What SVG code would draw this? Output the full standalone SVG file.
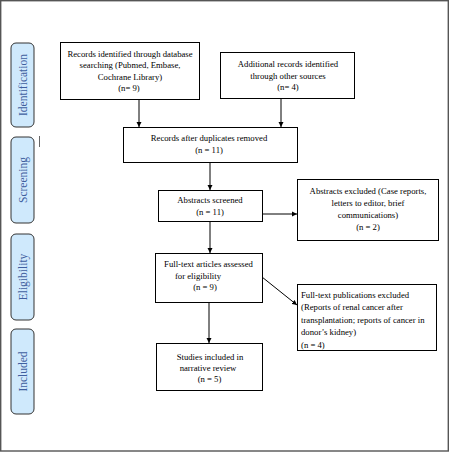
<svg xmlns="http://www.w3.org/2000/svg" width="449" height="452" viewBox="0 0 449 452">
<defs>
<marker id="ah" markerWidth="6" markerHeight="6" refX="5" refY="3" orient="auto" markerUnits="userSpaceOnUse">
<path d="M0,0.5 L5,3 L0,5.5 Z" fill="#000"/>
</marker>
<style>
.box{fill:#fff;stroke:#000;stroke-width:1}
.lab{fill:#cfe9fc;stroke:#333;stroke-width:1}
.t{font-family:"Liberation Serif","Times New Roman",serif;font-size:8.7px;fill:#000;text-anchor:middle}
.tl{font-family:"Liberation Serif","Times New Roman",serif;font-size:8.7px;fill:#000}
.lt{font-family:"Liberation Serif","Times New Roman",serif;font-size:11.5px;fill:#3f5f9f;text-anchor:middle}
.c{stroke:#000;stroke-width:1;fill:none;marker-end:url(#ah)}
</style>
</defs>
<rect x="0.7" y="0.7" width="447.6" height="450.3" fill="#fff" stroke="#555" stroke-width="1.4"/>
<g id="label-identification"><rect class="lab" x="11" y="43" width="23" height="84" rx="5"/><text class="lt" transform="translate(26.5,85) rotate(-90)">Identification</text></g>
<g id="label-screening"><rect class="lab" x="11" y="137" width="23" height="86" rx="5"/><text class="lt" transform="translate(26.5,180) rotate(-90)">Screening</text></g>
<line x1="39.5" y1="136" x2="39.5" y2="147" stroke="#666" stroke-width="1"/>
<g id="label-eligibility"><rect class="lab" x="11" y="234" width="23" height="86" rx="5"/><text class="lt" transform="translate(26.5,277) rotate(-90)">Eligibility</text></g>
<g id="label-included"><rect class="lab" x="11" y="329" width="23" height="85" rx="5"/><text class="lt" transform="translate(26.5,371.5) rotate(-90)">Included</text></g>
<g id="connectors">
<line class="c" x1="139" y1="99" x2="139" y2="127"/>
<line class="c" x1="281" y1="98" x2="281" y2="127"/>
<line class="c" x1="210" y1="163" x2="210" y2="190"/>
<line class="c" x1="263" y1="214" x2="297" y2="214"/>
<line class="c" x1="210" y1="221" x2="210" y2="253"/>
<line class="c" x1="262" y1="277" x2="297" y2="305"/>
<line class="c" x1="209" y1="302" x2="209" y2="343"/>
</g>
<g id="n1"><rect class="box" x="60.5" y="42.5" width="139" height="57"/>
<text class="t" x="130" y="56.5">Records identified through database</text>
<text class="t" x="130" y="68">searching (Pubmed, Embase,</text>
<text class="t" x="130" y="79.5">Cochrane Library)</text>
<text class="t" x="129" y="91">(n= 9)</text></g>
<g id="n2"><rect class="box" x="220.5" y="52.5" width="134" height="46"/>
<text class="t" x="288" y="67">Additional records identified</text>
<text class="t" x="288" y="78.5">through other sources</text>
<text class="t" x="288" y="90">(n= 4)</text></g>
<g id="n3"><rect class="box" x="123.5" y="127.5" width="174" height="35"/>
<text class="t" x="209" y="141">Records after duplicates removed</text>
<text class="t" x="209" y="153">(n = 11)</text></g>
<g id="n4"><rect class="box" x="158.5" y="190.5" width="104" height="31"/>
<text class="t" x="210" y="203">Abstracts screened</text>
<text class="t" x="210" y="214.5">(n = 11)</text></g>
<g id="n5"><rect class="box" x="297.5" y="179.5" width="141" height="61"/>
<text class="t" x="368" y="193.5">Abstracts excluded (Case reports,</text>
<text class="t" x="368" y="205.5">letters to editor, brief</text>
<text class="t" x="368" y="217.5">communications)</text>
<text class="t" x="368" y="229.5">(n = 2)</text></g>
<g id="n6"><rect class="box" x="155.5" y="253.5" width="107" height="49"/>
<text class="t" x="208.5" y="267">Full-text articles assessed</text>
<text class="t" x="198" y="278.5">for eligibility</text>
<text class="t" x="205" y="290">(n = 9)</text></g>
<g id="n7"><rect class="box" x="297.5" y="284.5" width="139" height="66"/>
<text class="tl" x="301" y="297.5">Full-text publications excluded</text>
<text class="tl" x="301" y="310">(Reports of renal cancer after</text>
<text class="tl" x="301" y="322.5">transplantation; reports of cancer in</text>
<text class="tl" x="301" y="335">donor’s kidney)</text>
<text class="tl" x="301" y="347.5">(n = 4)</text></g>
<g id="n8"><rect class="box" x="156.5" y="343.5" width="106" height="47"/>
<text class="t" x="210" y="359.5">Studies included in</text>
<text class="t" x="208" y="370.5">narrative review</text>
<text class="t" x="209.5" y="381.5">(n = 5)</text></g>
</svg>
